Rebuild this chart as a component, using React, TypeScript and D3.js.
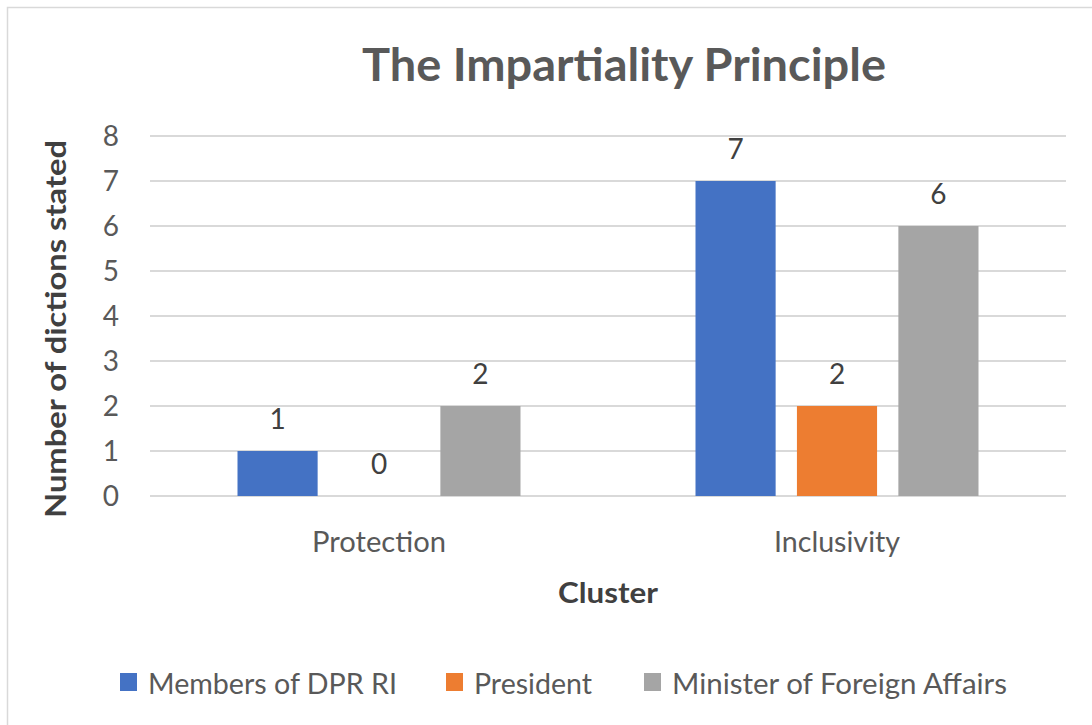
import React from 'react';
import * as d3 from 'd3';

const categories = ['Protection', 'Inclusivity'];
const seriesNames = ['Members of DPR RI', 'President', 'Minister of Foreign Affairs'];
const membersDpr = [1, 7];
const president = [0, 2];
const ministerForeign = [2, 6];
const yTicks = [0, 1, 2, 3, 4, 5, 6, 7, 8];
const seriesColors = ['#4472C4', '#ED7D31', '#A5A5A5'];

const values = [membersDpr, president, ministerForeign];

const width = 1092;
const height = 725;
const FONT = 'Lato, "Open Sans", sans-serif';

export default function App() {
  const margin = { top: 136, right: 26, bottom: 229, left: 150 };
  const innerWidth = width - margin.left - margin.right;
  const innerHeight = height - margin.top - margin.bottom;

  const x0 = d3.scaleBand().domain(categories).range([0, innerWidth]).padding(0);
  const groupWidth = 283;
  const x1 = d3
    .scaleBand()
    .domain(seriesNames)
    .range([0, groupWidth])
    .paddingInner(0.21)
    .paddingOuter(0);
  const y = d3.scaleLinear().domain([0, 8]).range([innerHeight, 0]);

  // legend layout (squares + label extents)
  const legendItems = [
    { sq: 120, tx: 148, w: 249 },
    { sq: 446, tx: 474, w: 118 },
    { sq: 644, tx: 672, w: 335 },
  ];

  return (
    <svg width={width} height={height} style={{ display: 'block', position: 'absolute', left: 0, top: 0 }}>
      <rect x={0} y={0} width={width} height={height} fill="#fff" />
      <rect x={7.5} y={7.5} width={width + 20} height={height + 20} fill="none" stroke="#D9D9D9" strokeWidth={1.5} />

      <text
        x={624}
        y={81}
        textAnchor="middle"
        fontFamily={FONT}
        fontWeight="bold"
        fontSize={45}
        fill="#595959"
        textLength={524}
        lengthAdjust="spacingAndGlyphs"
      >
        The Impartiality Principle
      </text>

      <g transform={`translate(${margin.left},${margin.top})`}>
        {/* gridlines */}
        {yTicks.map((t) => (
          <line key={t} x1={0} x2={innerWidth} y1={y(t)} y2={y(t)} stroke="#D9D9D9" strokeWidth={2} />
        ))}
        {/* y tick labels */}
        {yTicks.map((t) => (
          <text
            key={`yt${t}`}
            x={-31}
            y={y(t)}
            dy="0.36em"
            textAnchor="end"
            fontFamily={FONT}
            fontSize={28}
            fill="#595959"
          >
            {t}
          </text>
        ))}

        {/* bars */}
        {categories.map((c, ci) => {
          const gx = (x0(c) || 0) + (x0.bandwidth() - groupWidth) / 2;
          return (
            <g key={c} transform={`translate(${gx},0)`}>
              {seriesNames.map((s, si) => {
                const v = values[si][ci];
                const bx = x1(s) || 0;
                return (
                  <g key={s}>
                    {v > 0 && (
                      <rect
                        x={bx}
                        y={y(v)}
                        width={x1.bandwidth()}
                        height={innerHeight - y(v)}
                        fill={seriesColors[si]}
                      />
                    )}
                    <text
                      x={bx + x1.bandwidth() / 2}
                      y={y(v) - 22}
                      textAnchor="middle"
                      fontFamily={FONT}
                      fontSize={28}
                      fill="#404040"
                    >
                      {v}
                    </text>
                  </g>
                );
              })}
            </g>
          );
        })}

        {/* category labels */}
        {categories.map((c) => (
          <text
            key={`cl${c}`}
            x={(x0(c) || 0) + x0.bandwidth() / 2}
            y={innerHeight + 56}
            textAnchor="middle"
            fontFamily={FONT}
            fontSize={29}
            fill="#595959"
            textLength={c === 'Protection' ? 134 : 126}
            lengthAdjust="spacingAndGlyphs"
          >
            {c}
          </text>
        ))}
      </g>

      {/* axis titles */}
      <text
        x={608}
        y={603}
        textAnchor="middle"
        fontFamily={FONT}
        fontWeight="bold"
        fontSize={29}
        fill="#404040"
        textLength={100}
        lengthAdjust="spacingAndGlyphs"
      >
        Cluster
      </text>
      <text
        transform="translate(66,329) rotate(-90)"
        textAnchor="middle"
        fontFamily={FONT}
        fontWeight="bold"
        fontSize={29}
        fill="#404040"
        textLength={378}
        lengthAdjust="spacingAndGlyphs"
      >
        Number of dictions stated
      </text>

      {/* legend */}
      {seriesNames.map((s, i) => (
        <g key={`lg${s}`}>
          <rect x={legendItems[i].sq} y={673} width={17} height={18} fill={seriesColors[i]} />
          <text
            x={legendItems[i].tx}
            y={694}
            fontFamily={FONT}
            fontSize={29}
            fill="#595959"
            textLength={legendItems[i].w}
            lengthAdjust="spacingAndGlyphs"
          >
            {s}
          </text>
        </g>
      ))}
    </svg>
  );
}
